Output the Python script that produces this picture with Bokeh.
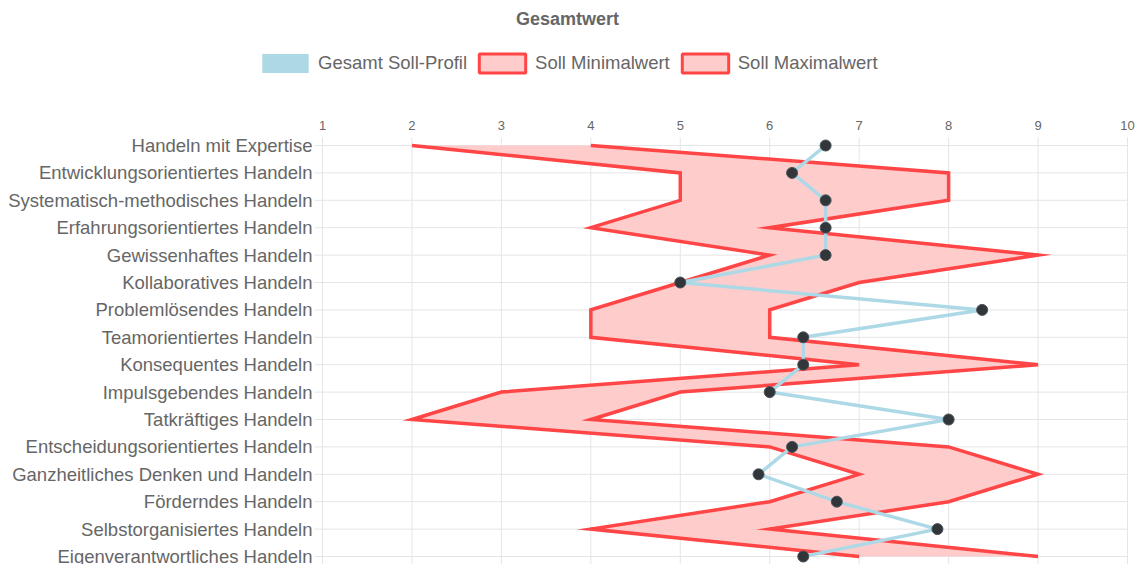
from bokeh.plotting import figure
from bokeh.models import (Range1d, ColumnDataSource, Legend, LegendItem, Label)
from bokeh.core.properties import value
from bokeh.embed import file_html
from bokeh.resources import INLINE

categories = [
    "Handeln mit Expertise",
    "Entwicklungsorientiertes Handeln",
    "Systematisch-methodisches Handeln",
    "Erfahrungsorientiertes Handeln",
    "Gewissenhaftes Handeln",
    "Kollaboratives Handeln",
    "Problemlösendes Handeln",
    "Teamorientiertes Handeln",
    "Konsequentes Handeln",
    "Impulsgebendes Handeln",
    "Tatkräftiges Handeln",
    "Entscheidungsorientiertes Handeln",
    "Ganzheitliches Denken und Handeln",
    "Förderndes Handeln",
    "Selbstorganisiertes Handeln",
    "Eigenverantwortliches Handeln",
]
soll_profil = [6.625, 6.25, 6.625, 6.625, 6.625, 5.0, 8.375, 6.375,
               6.375, 6.0, 8.0, 6.25, 5.875, 6.75, 7.875, 6.375]
soll_min = [2, 5, 5, 4, 6, 5, 4, 4, 7, 3, 2, 6, 7, 6, 4, 7]
soll_max = [4, 8, 8, 6, 9, 7, 6, 6, 9, 5, 4, 8, 9, 8, 6, 9]
x_ticks = [1, 2, 3, 4, 5, 6, 7, 8, 9, 10]
x_tick_labels = [str(t) for t in x_ticks]
series_labels = ["Gesamt Soll-Profil", "Soll Minimalwert", "Soll Maximalwert"]
chart_title = "Gesamtwert"

FONT = "Liberation Sans"
TXT = "#666666"
GRID = "#e5e5e5"
RED = "#ff4545"
PINK = "#ffcccc"
BLUE = "#add8e6"

# ---- layout geometry (pixels) ----
W, H = 1142, 564
PLOT_L, PLOT_R = 322, 1127      # pixel of x = first / last tick
PLOT_T = 145                    # pixel of the first category row
ROW_PX = 27.4
TICK_PX = 8

x_lo, x_hi = x_ticks[0], x_ticks[-1]
ux = (PLOT_R - PLOT_L) / (x_hi - x_lo)
n = len(categories)
rows = list(range(n))
y_top = rows[0] - PLOT_T / ROW_PX
y_bot = rows[0] + (H - PLOT_T) / ROW_PX

p = figure(width=W, height=H, output_backend="svg", toolbar_location=None,
           x_range=Range1d(x_lo - PLOT_L / ux, x_hi + (W - PLOT_R) / ux),
           y_range=Range1d(y_bot, y_top),
           x_axis_type=None, y_axis_type=None,
           min_border=0, min_border_left=0, min_border_right=0,
           min_border_top=0, min_border_bottom=0)
p.outline_line_color = None
p.xgrid.visible = False
p.ygrid.visible = False

# ---- grid (vertical lines at x ticks, horizontal lines at categories) ----
gx = ColumnDataSource(dict(x=x_ticks, y0=[rows[0] - TICK_PX / ROW_PX] * len(x_ticks),
                           y1=[y_bot] * len(x_ticks)))
p.segment(x0="x", x1="x", y0="y0", y1="y1", source=gx, line_color=GRID, line_width=1)
gy = ColumnDataSource(dict(y=rows, x0=[x_lo - TICK_PX / ux] * n, x1=[x_hi] * n))
p.segment(x0="x0", x1="x1", y0="y", y1="y", source=gy, line_color=GRID, line_width=1)

# ---- tick labels ----
tx = ColumnDataSource(dict(x=x_ticks, y=[rows[0]] * len(x_ticks), t=x_tick_labels))
p.text(x="x", y="y", text="t", source=tx, y_offset=-(TICK_PX + 12),
       text_align="center", text_baseline="middle",
       text_font=value(FONT), text_font_size=value("13px"), text_color=TXT)
ty = ColumnDataSource(dict(x=[x_lo] * n, y=rows, t=categories))
p.text(x="x", y="y", text="t", source=ty, x_offset=-(TICK_PX + 2),
       text_align="right", text_baseline="middle",
       text_font=value(FONT), text_font_size=value("18.5px"), text_color=TXT)

# ---- data ----
src = ColumnDataSource(dict(y=rows, vmin=soll_min, vmax=soll_max, v=soll_profil))
p.harea(x1="vmin", x2="vmax", y="y", source=src, fill_color=PINK, fill_alpha=1)
p.line(x="vmin", y="y", source=src, line_color=RED, line_width=3.5, line_join="miter")
p.line(x="vmax", y="y", source=src, line_color=RED, line_width=3.5, line_join="miter")
p.line(x="v", y="y", source=src, line_color=BLUE, line_width=3.5)
p.scatter(x="v", y="y", source=src, size=11, fill_color="#30363a",
          line_color="#4a5258", line_width=1)

# ---- legend (proxy rectangles that are only drawn in the legend) ----
proxy = ColumnDataSource(dict(x=[float("nan")], y=[float("nan")]))
r1 = p.rect(x="x", y="y", width=1, height=1, source=proxy,
            fill_color=BLUE, line_color=None)
r2 = p.rect(x="x", y="y", width=1, height=1, source=proxy,
            fill_color=PINK, line_color=RED, line_width=3)
r3 = p.rect(x="x", y="y", width=1, height=1, source=proxy,
            fill_color=PINK, line_color=RED, line_width=3)

legend = Legend(items=[LegendItem(label=series_labels[0], renderers=[r1]),
                       LegendItem(label=series_labels[1], renderers=[r2]),
                       LegendItem(label=series_labels[2], renderers=[r3])],
                orientation="horizontal",
                location=(256, H - 74.5),
                glyph_width=58, glyph_height=24, label_height=24,
                label_standoff=4, spacing=6, padding=0, margin=0,
                border_line_color=None, background_fill_alpha=0,
                label_text_font_size="18.5px", label_text_color=TXT,
                label_text_font=FONT)
p.add_layout(legend, "center")

title = Label(x=567, y=H - 18, x_units="screen", y_units="screen",
              text=chart_title, text_align="center", text_baseline="middle",
              text_font=FONT, text_font_style="bold",
              text_font_size="18px", text_color=TXT)
p.add_layout(title)

open("out.html", "w").write(file_html(p, INLINE))
